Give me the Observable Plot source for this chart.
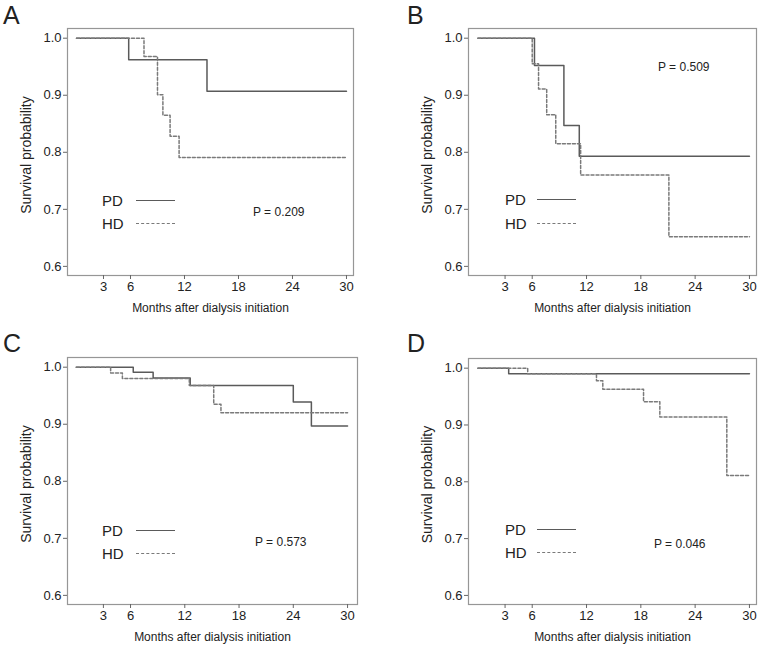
<!DOCTYPE html>
<html>
<head>
<meta charset="utf-8">
<script src="https://cdn.jsdelivr.net/npm/d3@7"></script>
<script src="https://cdn.jsdelivr.net/npm/@observablehq/plot@0.6"></script>
<style>
  html, body { margin: 0; padding: 0; background: #fff; }
  #root { position: relative; width: 765px; height: 649px; overflow: hidden;
          font-family: "Liberation Sans", Arial, Helvetica, sans-serif; color: #222; }
  .panel { position: absolute; }
  .panel svg { position: absolute; left: 0; top: 0; }
  .letter { position: absolute; font-size: 25px; line-height: 1; }
  .ann { position: absolute; white-space: nowrap; line-height: 1; transform: translateY(-50%); }
  .leg { font-size: 15px; }
  .pval { font-size: 12px; }
  .sample { position: absolute; height: 0; width: 39px; }
</style>
</head>
<body>
<div id="root"></div>
<script>
// ---------------- data ----------------
const panelNames = ["A", "B", "C", "D"];
const groupNames = ["PD", "HD"];
const pValues = ["P = 0.209", "P = 0.509", "P = 0.573", "P = 0.046"];
const xTicks = [3, 6, 12, 18, 24, 30];
const yTicks = [0.6, 0.7, 0.8, 0.9, 1.0];
const xTitle = "Months after dialysis initiation";
const yTitle = "Survival probability";

const A_PD_time = [0, 5.8, 14.5, 30];
const A_PD_surv = [1, 0.962, 0.907, 0.907];
const A_HD_time = [0, 7.5, 9.0, 9.6, 10.4, 11.4, 30];
const A_HD_surv = [1, 0.968, 0.901, 0.865, 0.828, 0.791, 0.791];

const B_PD_time = [0, 6.25, 9.5, 11.2, 30];
const B_PD_surv = [1, 0.952, 0.847, 0.793, 0.793];
const B_HD_time = [0, 6.0, 6.7, 7.6, 8.6, 11.35, 21.1, 30];
const B_HD_surv = [1, 0.955, 0.911, 0.866, 0.815, 0.760, 0.652, 0.652];

const C_PD_time = [0, 6.3, 8.5, 12.6, 24.0, 26.0, 30];
const C_PD_surv = [1, 0.991, 0.981, 0.968, 0.939, 0.897, 0.897];
const C_HD_time = [0, 3.8, 5.1, 12.5, 15.2, 16.0, 30];
const C_HD_surv = [1, 0.990, 0.980, 0.968, 0.935, 0.920, 0.920];

const D_PD_time = [0, 3.4, 30];
const D_PD_surv = [1, 0.990, 0.990];
const D_HD_time = [0, 5.5, 13.1, 13.8, 18.3, 20.1, 27.5, 30];
const D_HD_surv = [1, 0.990, 0.978, 0.963, 0.941, 0.914, 0.811, 0.811];

const seriesData = {
  A: {PD: [A_PD_time, A_PD_surv], HD: [A_HD_time, A_HD_surv]},
  B: {PD: [B_PD_time, B_PD_surv], HD: [B_HD_time, B_HD_surv]},
  C: {PD: [C_PD_time, C_PD_surv], HD: [C_HD_time, C_HD_surv]},
  D: {PD: [D_PD_time, D_PD_surv], HD: [D_HD_time, D_HD_surv]}
};

// ---------------- layout ----------------
const layout = {
  A: {left: 0,   top: 0,   w: 382, h: 320, mL: 67, mR: 29, mT: 28, mB: 45, xDom: [-1, 30.78],
      letter: [3, 3], legX: 102, legY: [200, 223], sampleX: 136, pX: 253, pY: 212},
  B: {left: 383, top: 0,   w: 382, h: 320, mL: 85, mR: 9,  mT: 28, mB: 45, xDom: [-1.04, 30.78],
      letter: [407, 3], legX: 505, legY: [199, 223], sampleX: 537, pX: 658, pY: 67},
  C: {left: 0,   top: 320, w: 382, h: 329, mL: 67, mR: 25, mT: 37, mB: 45, xDom: [-0.97, 31.1],
      letter: [3, 331], legX: 102, legY: [530, 553], sampleX: 136, pX: 255, pY: 542},
  D: {left: 383, top: 320, w: 382, h: 329, mL: 85, mR: 9,  mT: 38, mB: 45, xDom: [-1.04, 30.78],
      letter: [407, 331], legX: 505, legY: [529, 552], sampleX: 537, pX: 654, pY: 544}
};
const styles = {
  PD: {stroke: "#5a5a5a", strokeWidth: 1.5, dash: null, css: "1.5px solid #5a5a5a"},
  HD: {stroke: "#7a7a7a", strokeWidth: 1.5, dash: "3,2", css: "1.5px dashed #7a7a7a"}
};

const root = document.getElementById("root");
const font = '"Liberation Sans", Arial, Helvetica, sans-serif';

panelNames.forEach((name, i) => {
  const L = layout[name];
  const rows = [];
  groupNames.forEach(g => {
    const [t, s] = seriesData[name][g];
    t.forEach((tv, k) => rows.push({group: g, time: tv, surv: s[k]}));
  });

  const marks = [
    Plot.frame({stroke: "#969696", strokeWidth: 1.2}),
    ...groupNames.map(g => Plot.line(rows.filter(r => r.group === g), {
      x: "time", y: "surv", curve: "step-after",
      stroke: styles[g].stroke, strokeWidth: styles[g].strokeWidth,
      strokeDasharray: styles[g].dash
    })),
    Plot.axisX({ticks: xTicks, tickSize: 4, tickPadding: 2, fontSize: 13, label: null, stroke: "#666", fill: "#222"}),
    Plot.axisY({ticks: yTicks, tickSize: 4, tickPadding: 2, fontSize: 13, label: null, tickFormat: d3.format(".1f"), stroke: "#666", fill: "#222"}),
    Plot.text([xTitle], {text: d => d, frameAnchor: "bottom", dy: 33, textAnchor: "middle", lineAnchor: "middle", fontSize: 12, fill: "#222"}),
    Plot.text([yTitle], {text: d => d, frameAnchor: "left", dx: -41, dy: 3, rotate: -90, textAnchor: "middle", lineAnchor: "middle", fontSize: 14, fill: "#222"})
  ];

  const svg = Plot.plot({
    width: L.w, height: L.h,
    marginLeft: L.mL, marginRight: L.mR, marginTop: L.mT, marginBottom: L.mB,
    x: {domain: L.xDom, axis: null},
    y: {domain: [0.584, 1.017], axis: null},
    style: {fontFamily: font, fontSize: "13px", color: "#222", background: "transparent"},
    marks
  });

  const panel = document.createElement("div");
  panel.className = "panel";
  panel.style.left = L.left + "px";
  panel.style.top = L.top + "px";
  panel.style.width = L.w + "px";
  panel.style.height = L.h + "px";
  panel.appendChild(svg);
  root.appendChild(panel);

  // panel letter
  const letter = document.createElement("div");
  letter.className = "letter";
  letter.textContent = name;
  letter.style.left = L.letter[0] + "px";
  letter.style.top = L.letter[1] + "px";
  root.appendChild(letter);

  // legend
  groupNames.forEach((g, k) => {
    const lab = document.createElement("div");
    lab.className = "ann leg";
    lab.textContent = g;
    lab.style.left = L.legX + "px";
    lab.style.top = L.legY[k] + "px";
    root.appendChild(lab);
    const sm = document.createElement("div");
    sm.className = "sample";
    sm.style.left = L.sampleX + "px";
    sm.style.top = L.legY[k] + "px";
    sm.style.borderTop = styles[g].css;
    root.appendChild(sm);
  });

  // p-value
  const p = document.createElement("div");
  p.className = "ann pval";
  p.textContent = pValues[i];
  p.style.left = L.pX + "px";
  p.style.top = L.pY + "px";
  root.appendChild(p);
});
</script>
</body>
</html>
